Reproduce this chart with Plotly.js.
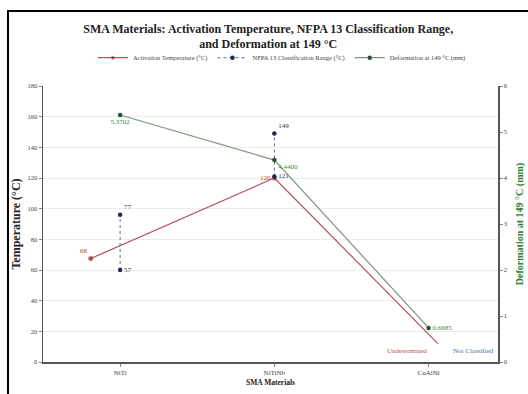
<!DOCTYPE html>
<html>
<head>
<meta charset="utf-8">
<script src="https://cdn.plot.ly/plotly-3.0.1.min.js"></script>
<style>
html,body{margin:0;padding:0;background:#fff;}
#wrap{position:relative;width:528px;height:394px;overflow:hidden;}
#chart{position:absolute;left:0;top:0;width:528px;height:394px;}
#frame{position:absolute;left:7px;top:10px;width:600px;height:500px;border-left:2px solid #000;border-top:2px solid #000;pointer-events:none;}
</style>
</head>
<body>
<div id="wrap"><div id="chart"></div><div id="frame"></div></div>
<script>
// Data
const materials = ["NiTi", "NiTiNb", "CuAlNi"];
const activationX = [-0.19, 1, 2.06];
const activationTemp = [67.5, 120, 12];
const activationLabels = ["68", "120", ""];
const nfpaX = [0, 0, null, 1, 1];
const nfpaRange = [60, 96, null, 121, 149];
const nfpaLabels = ["57", "77", "", "121", "149"];
const deformation = [5.37, 4.39, 0.74];
const deformationLabels = ["5.3702", "4.4400", "0.6685"];
const yTicks = [0, 20, 40, 60, 80, 100, 120, 140, 160, 180];
const y2Ticks = [0, 1, 2, 3, 4, 5, 6];

const serif = "Liberation Serif, Times New Roman, serif";

const traces = [
  {
    type: "scatter", mode: "lines+markers+text",
    name: "Activation Temperature (°C)",
    x: activationX, y: activationTemp,
    text: activationLabels, textposition: ["top left", "middle left", "top left"],
    textfont: {family: serif, size: 7, color: "#c0392b"},
    line: {color: "#b5525a", width: 1.2},
    marker: {color: "#6b1a22", size: [4.5, 4.5, 0]},
    cliponaxis: false
  },
  {
    type: "scatter", mode: "lines+markers+text",
    name: "NFPA 13 Classification Range (°C)",
    x: nfpaX, y: nfpaRange,
    text: nfpaLabels, textposition: ["middle right", "top right", "middle right", "middle right", "top right"],
    textfont: {family: serif, size: 7, color: "#2c3550"},
    line: {color: "#5a6f9a", width: 1, dash: "dot"},
    marker: {color: "#1f2a48", size: 4.5},
    connectgaps: false,
    cliponaxis: false
  },
  {
    type: "scatter", mode: "lines+markers+text",
    name: "Deformation at 149 °C (mm)",
    x: [0, 1, 2], y: deformation, yaxis: "y2",
    text: deformationLabels, textposition: ["bottom center", "bottom right", "middle right"],
    textfont: {family: serif, size: 7, color: "#3c8c3c"},
    line: {color: "#7d977d", width: 1.2},
    marker: {color: "#2f4f2f", size: 4.5},
    cliponaxis: false
  }
];

const layout = {
  width: 528, height: 394,
  margin: {l: 43, r: 30, t: 86, b: 32},
  paper_bgcolor: "#fff", plot_bgcolor: "#fff",
  font: {family: serif, size: 7, color: "#333"},
  title: {
    text: "<b>SMA Materials: Activation Temperature, NFPA 13 Classification Range,<br>and Deformation at 149 °C</b>",
    font: {family: serif, size: 12, color: "#222"},
    x: 0.508, xanchor: "center", y: 0.917, yanchor: "middle", yref: "container"
  },
  showlegend: true,
  legend: {
    orientation: "h", x: 0.525, xanchor: "center", y: 1.155, yanchor: "top",
    font: {family: serif, size: 6.5, color: "#444"}, itemwidth: 30,
    bgcolor: "rgba(0,0,0,0)"
  },
  xaxis: {
    type: "linear", range: [-0.5, 2.45],
    tickvals: [0, 1, 2], ticktext: materials,
    showgrid: false, zeroline: false,
    showline: true, linecolor: "#555", linewidth: 1.5,
    ticks: "outside", ticklen: 3, tickcolor: "#888",
    tickfont: {family: serif, size: 7, color: "#444"},
    title: {text: "<b>SMA Materials</b>", font: {family: serif, size: 7.5, color: "#222"}, standoff: 4}
  },
  yaxis: {
    range: [0, 180], tickvals: yTicks,
    showgrid: true, gridcolor: "#ececec", gridwidth: 1, zeroline: false,
    showline: true, linecolor: "#555", linewidth: 1.5,
    ticks: "outside", ticklen: 3, tickcolor: "#888",
    tickfont: {family: serif, size: 6.5, color: "#444"},
    title: {text: "<b>Temperature (°C)</b>", font: {family: serif, size: 12, color: "#222"}, standoff: 4}
  },
  yaxis2: {
    overlaying: "y", side: "right",
    range: [0, 6], tickvals: y2Ticks,
    showgrid: false, zeroline: false,
    showline: true, linecolor: "#555", linewidth: 1.5,
    ticks: "outside", ticklen: 3, tickcolor: "#888",
    tickfont: {family: serif, size: 6.5, color: "#444"},
    title: {text: "<b>Deformation at 149 °C (mm)</b>", font: {family: serif, size: 10, color: "#2e7d32"}, standoff: 9}
  },
  annotations: [
    {x: 1.86, y: 7, xref: "x", yref: "y", text: "Undetermined", showarrow: false,
     font: {family: serif, size: 7, color: "#c0504d"}},
    {x: 2.29, y: 7, xref: "x", yref: "y", text: "Not Classified", showarrow: false,
     font: {family: serif, size: 7, color: "#4f6fa0"}}
  ]
};

Plotly.newPlot("chart", traces, layout, {displayModeBar: false, staticPlot: true});
</script>
</body>
</html>
